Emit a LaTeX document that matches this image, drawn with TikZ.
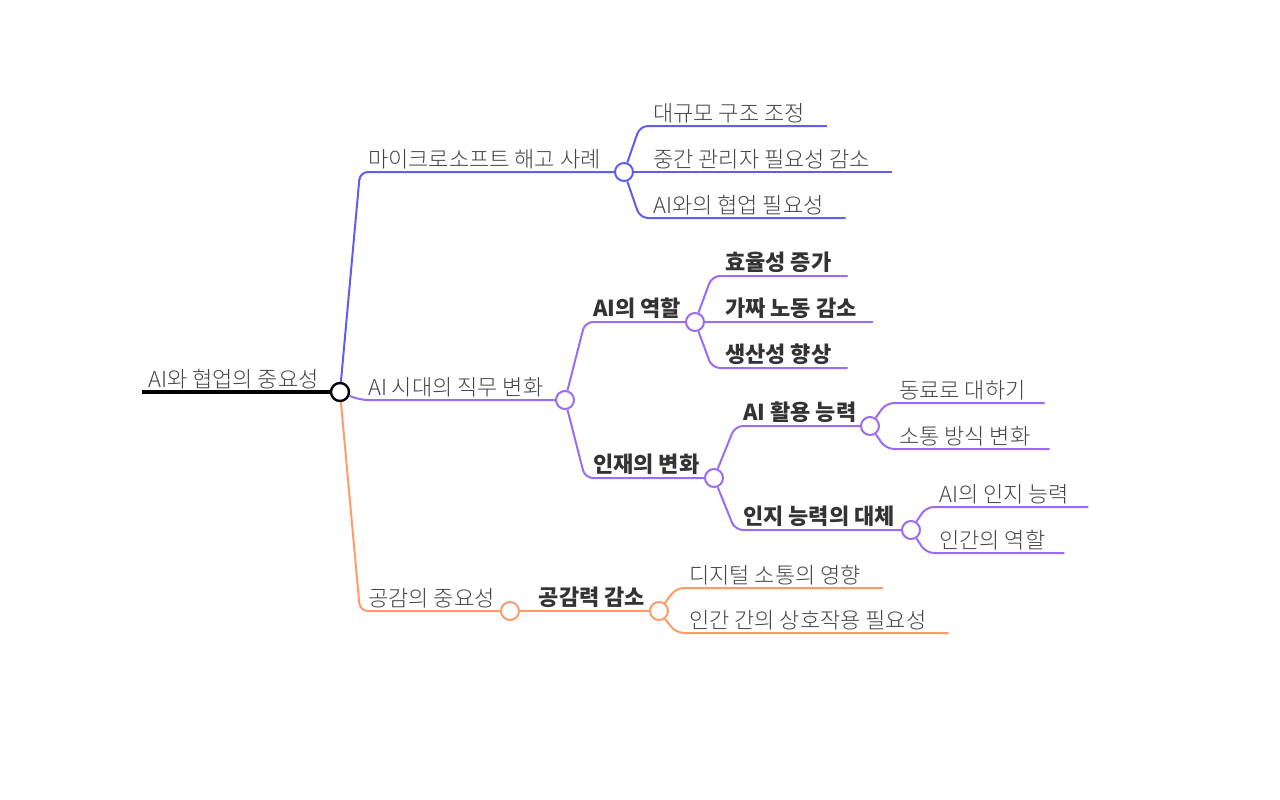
\documentclass[tikz,border=0pt]{standalone}
\usepackage{fontspec}
\setmainfont{Noto Sans CJK KR}
\IfFontExistsTF{Noto Sans CJK KR Light}
  {\newfontfamily\thinkr{Noto Sans CJK KR Light}}
  {\newfontfamily\thinkr{Noto Sans CJK KR}}
\definecolor{msblue}{HTML}{5E5EF2}
\definecolor{jobpurple}{HTML}{9B6CF2}
\definecolor{empathy}{HTML}{FF9B6B}
\definecolor{lighttext}{HTML}{444444}
\definecolor{boldtext}{HTML}{333333}
\tikzset{
  topic/.style={anchor=south west, inner xsep=8pt, inner ysep=3pt,
    font=\thinkr\fontsize{22}{26}\selectfont, text=lighttext},
  subtopic/.style={topic, font=\fontsize{22}{26}\selectfont\bfseries, text=boldtext},
  leaf/.style={topic, inner xsep=13pt},
  boldleaf/.style={subtopic, inner xsep=13pt},
  hub/.style={circle, draw, fill=white, line width=2pt, minimum size=18pt, inner sep=0pt},
  branch/.style={line width=2pt, rounded corners=8pt}
}

\begin{document}
\begin{tikzpicture}[x=1pt, y=-1pt]
    \useasboundingbox (0,0) rectangle (1280,800);
    %%%%%%%%%%%%%%%%%%%%%%%%%%%%%%%%%%%%%%%%
    % Root
    %%%%%%%%%%%%%%%%%%%%%%%%%%%%%%%%%%%%%%%%
    \node (main) [topic, inner xsep=6pt] at (142,392) {AI와 협업의 중요성};
    \node (root) [hub, line width=2.4pt] at (340,392) {};
    \draw [line width=3.5pt] (main.south west) -- (root);
    %%%%%%%%%%%%%%%%%%%%%%%%%%%%%%%%%%%%%%%%
    % Microsoft
    %%%%%%%%%%%%%%%%%%%%%%%%%%%%%%%%%%%%%%%%
    \node (ms) [topic] at (360,172) {마이크로소프트 해고 사례};
    \node (msc) [hub, draw=msblue] at (624,172) {};
    \node (ms1) [leaf] at (640,126) {대규모 구조 조정};
    \node (ms2) [leaf] at (640,172) {중간 관리자 필요성 감소};
    \node (ms3) [leaf] at (640,218) {AI와의 협업 필요성};
    \draw [branch, msblue] (root) -- (ms.south west) -- (msc);
    \draw [branch, msblue] (msc) -- (ms1.south west) -- ([xshift=9pt]ms1.south east);
    \draw [branch, msblue] (msc) -- (ms2.south west) -- ([xshift=9pt]ms2.south east);
    \draw [branch, msblue] (msc) -- (ms3.south west) -- ([xshift=9pt]ms3.south east);
    %%%%%%%%%%%%%%%%%%%%%%%%%%%%%%%%%%%%%%%%
    % Jobs
    %%%%%%%%%%%%%%%%%%%%%%%%%%%%%%%%%%%%%%%%
    \node (job) [topic] at (360,400) {AI 시대의 직무 변화};
    \node (jobc) [hub, draw=jobpurple] at (565,400) {};
    \node (role) [subtopic] at (585,322) {AI의 역할};
    \node (rolec) [hub, draw=jobpurple] at (695,322) {};
    \node (role1) [boldleaf] at (712,276) {효율성 증가};
    \node (role2) [boldleaf] at (712,322) {가짜 노동 감소};
    \node (role3) [boldleaf] at (712,368) {생산성 향상};
    \node (talent) [subtopic] at (585,478) {인재의 변화};
    \node (talentc) [hub, draw=jobpurple] at (714,478) {};
    \node (use) [subtopic] at (735,426) {AI 활용 능력};
    \node (usec) [hub, draw=jobpurple] at (870,426) {};
    \node (use1) [leaf] at (886,403) {동료로 대하기};
    \node (use2) [leaf] at (886,449) {소통 방식 변화};
    \node (cog) [subtopic] at (735,530) {인지 능력의 대체};
    \node (cogc) [hub, draw=jobpurple] at (911,530) {};
    \node (cog1) [leaf] at (926,507) {AI의 인지 능력};
    \node (cog2) [leaf] at (926,553) {인간의 역할};
    \draw [branch, jobpurple] (root) -- (job.south west) -- (jobc);
    \draw [branch, jobpurple] (jobc) -- (role.south west) -- (rolec);
    \draw [branch, jobpurple] (rolec) -- (role1.south west) -- ([xshift=3pt]role1.south east);
    \draw [branch, jobpurple] (rolec) -- (role2.south west) -- ([xshift=3pt]role2.south east);
    \draw [branch, jobpurple] (rolec) -- (role3.south west) -- ([xshift=3pt]role3.south east);
    \draw [branch, jobpurple] (jobc) -- (talent.south west) -- (talentc);
    \draw [branch, jobpurple] (talentc) -- (use.south west) -- (usec);
    \draw [branch, jobpurple] (usec) -- (use1.south west) -- ([xshift=6pt]use1.south east);
    \draw [branch, jobpurple] (usec) -- (use2.south west) -- ([xshift=6pt]use2.south east);
    \draw [branch, jobpurple] (talentc) -- (cog.south west) -- (cogc);
    \draw [branch, jobpurple] (cogc) -- (cog1.south west) -- ([xshift=6pt]cog1.south east);
    \draw [branch, jobpurple] (cogc) -- (cog2.south west) -- ([xshift=6pt]cog2.south east);
    %%%%%%%%%%%%%%%%%%%%%%%%%%%%%%%%%%%%%%%%
    % Empathy
    %%%%%%%%%%%%%%%%%%%%%%%%%%%%%%%%%%%%%%%%
    \node (emp) [topic] at (360,611) {공감의 중요성};
    \node (empc) [hub, draw=empathy] at (510,611) {};
    \node (loss) [subtopic, anchor=south] at (592,611) {공감력 감소};
    \node (lossc) [hub, draw=empathy] at (659,611) {};
    \node (loss1) [leaf] at (676,588) {디지털 소통의 영향};
    \node (loss2) [leaf] at (676,633) {인간 간의 상호작용 필요성};
    \draw [branch, empathy] (root) -- (emp.south west) -- (empc);
    \draw [branch, empathy] (empc) -- (lossc);
    \draw [branch, empathy] (lossc) -- (loss1.south west) -- ([xshift=9pt]loss1.south east);
    \draw [branch, empathy] (lossc) -- (loss2.south west) -- ([xshift=9pt]loss2.south east);
\end{tikzpicture}
\end{document}
